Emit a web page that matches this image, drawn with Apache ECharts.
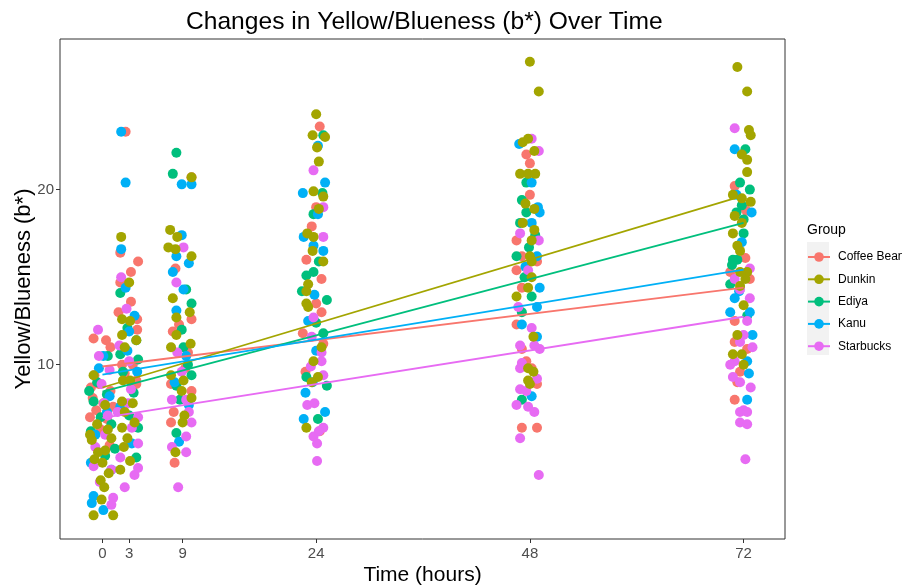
<!DOCTYPE html>
<html>
<head>
<meta charset="utf-8">
<script src="https://cdn.jsdelivr.net/npm/echarts@6/dist/echarts.min.js"></script>
<style>html,body{margin:0;padding:0;background:#fff}#c{width:902px;height:585px}</style>
</head>
<body>
<div id="c"></div>
<script>
// Group names and colours
const groups = ['Coffee Bean', 'Dunkin', 'Ediya', 'Kanu', 'Starbucks'];
const colors = ['#F8766D', '#A3A500', '#00BF7D', '#00B0F6', '#E76BF3'];
const xTicks = [0, 3, 9, 24, 48, 72];
const yTicks = [10, 20];

// Jittered [time, b*] points per group
const coffeeBean = [
  [-1.0,11.5],[0.4,11.4],[0.9,11.0],[-1.3,8.7],[-0.4,8.9],[0.9,8.5],[-1.1,8.1],[0.1,7.8],[-0.7,7.4],[1.2,7.6],[-1.4,7.0],[0.5,6.9],[-0.2,6.3],[0.8,5.4],[-0.9,9.4],
  [2.6,23.3],[2.0,16.4],[4.0,15.9],[3.2,15.3],[2.0,14.7],[3.2,13.6],[1.8,13.0],[3.9,12.6],[3.9,12.0],[2.2,10.0],[3.4,10.0],[3.8,9.1],[3.3,8.6],[3.8,8.9],[2.5,9.5],
  [10.0,20.7],[8.2,15.5],[10.0,12.6],[7.9,11.9],[9.6,10.7],[7.7,8.9],[10.0,8.5],[8.0,7.3],[7.7,6.7],[8.1,4.4],[9.3,9.8],[8.6,12.3],
  [24.4,23.6],[24.0,19.0],[23.5,17.9],[22.9,16.0],[24.6,14.9],[24.0,13.5],[24.6,13.0],[22.5,11.8],[24.8,11.2],[22.8,9.6],[24.4,6.2],
  [47.6,22.0],[48.0,21.5],[48.0,19.7],[46.5,17.1],[47.1,16.2],[48.8,15.9],[46.5,15.4],[47.1,14.4],[46.5,12.3],[47.1,10.9],[47.6,10.2],[48.2,9.8],[48.8,8.9],[47.1,6.4],[48.8,6.4],
  [71.0,20.2],[72.0,19.0],[72.3,18.8],[72.2,16.1],[70.5,15.3],[72.7,14.9],[71.0,12.5],[71.0,11.3],[72.4,10.9],[71.6,9.6],[71.3,9.0],[71.0,8.0]
];
const dunkin = [
  [-1.0,9.4],[0.3,7.7],[-0.6,6.6],[0.6,6.3],[-1.2,5.7],[0.3,5.1],[-0.5,5.0],[0.0,4.4],[-0.2,3.4],[0.2,3.0],[-0.1,2.3],[-1.0,1.4],[1.2,1.4],[-1.4,6.0],[1.0,5.8],[-0.9,4.6],[0.7,3.8],
  [2.1,17.3],[3.0,14.7],[2.2,12.6],[3.1,12.5],[2.2,11.7],[3.8,11.4],[2.5,11.0],[2.3,9.1],[3.1,9.1],[2.2,7.9],[3.4,7.8],[2.5,7.3],[3.6,6.7],[2.2,6.4],[2.8,5.8],[2.4,5.3],[3.1,4.5],[2.0,4.0],
  [10.0,20.7],[7.6,17.7],[8.4,17.3],[7.4,16.7],[8.2,16.6],[10.0,16.2],[7.9,13.8],[9.8,13.0],[8.3,12.7],[8.3,11.7],[9.9,11.2],[7.7,11.0],[7.7,9.4],[9.1,9.1],[8.9,8.5],[10.0,8.1],[9.2,7.1],[9.0,6.7],[8.2,5.0],
  [24.0,24.3],[23.6,23.1],[25.0,23.0],[24.1,22.4],[24.3,21.6],[23.7,19.9],[24.8,19.6],[24.3,18.9],[23.0,17.5],[23.7,17.3],[23.6,16.5],[24.8,15.9],[23.1,14.6],[22.9,14.2],[22.9,13.5],[23.1,13.3],[24.6,11.0],[23.7,10.2],[24.2,9.3],[23.5,9.0],[22.9,6.4],
  [48.0,27.3],[49.0,25.6],[47.8,22.9],[47.2,22.7],[48.5,22.2],[46.9,20.9],[47.8,20.9],[48.6,20.9],[47.5,19.2],[48.5,18.9],[47.2,18.1],[48.5,17.7],[48.2,17.1],[48.0,16.2],[48.2,15.9],[48.2,15.0],[47.8,14.4],[46.5,13.9],[48.4,11.6],[47.8,9.8],[48.4,9.6],[47.8,9.1],[48.0,8.9],
  [71.3,27.0],[72.4,25.6],[72.6,23.4],[72.8,23.1],[71.8,22.0],[72.4,21.7],[72.4,21.0],[70.8,19.7],[71.8,19.5],[72.8,19.3],[71.0,18.5],[71.8,18.1],[70.8,17.5],[71.3,16.8],[71.6,16.5],[72.4,15.3],[71.6,15.3],[72.2,14.9],[72.0,13.4],[71.3,11.7],[70.8,10.6],[71.8,10.6],[72.0,10.0],[71.6,14.5]
];
const ediya = [
  [-1.5,8.5],[-1.0,7.9],[0.6,10.5],[-0.2,7.0],[1.0,6.6],[-1.3,6.2],[0.5,8.3],[1.4,5.2],[-0.6,9.0],[0.3,4.8],
  [2.0,14.1],[3.8,11.4],[2.0,10.6],[4.0,10.3],[4.0,6.4],[3.8,4.7],[2.8,12.1],[3.5,8.4],[2.3,9.6],[3.0,7.1],
  [8.3,22.1],[7.9,20.9],[10.0,13.5],[8.9,12.0],[9.1,11.0],[9.6,10.0],[10.0,9.4],[8.3,8.8],[8.7,8.0],[8.3,6.1],[9.4,14.3],
  [24.8,23.1],[24.7,19.8],[23.7,18.6],[24.3,15.9],[22.9,15.1],[23.7,15.3],[22.4,14.2],[25.2,13.7],[24.8,11.8],[22.9,9.3],[25.2,8.8],[24.2,6.9],[24.0,12.4],
  [47.6,20.4],[47.1,19.4],[47.6,18.7],[46.9,18.1],[46.5,16.2],[47.4,15.0],[48.2,13.9],[47.1,13.0],[47.1,8.0],[48.6,17.4],[47.9,16.7],
  [72.2,22.3],[71.6,20.4],[72.7,20.0],[72.0,18.3],[72.0,17.5],[70.8,16.0],[71.3,16.0],[70.5,14.6],[71.8,19.1],[71.2,18.7],[70.7,15.7],[72.4,12.8]
];
const kanu = [
  [0.1,10.5],[-1.3,4.4],[-1.0,2.5],[0.1,1.7],[-0.4,9.8],[0.8,8.2],[-0.8,6.0],[1.0,4.0],[-1.2,2.1],[0.5,7.3],
  [2.1,23.3],[2.6,20.4],[2.1,16.6],[2.6,14.4],[3.6,12.8],[2.8,10.8],[3.9,9.6],[2.0,7.6],[3.3,5.5],[3.0,11.9],
  [8.9,20.3],[10.0,20.3],[8.9,17.4],[8.3,16.2],[9.7,15.8],[7.9,15.3],[9.1,14.3],[8.3,13.1],[9.4,10.5],[8.1,9.0],[9.7,7.7],[8.6,5.6],
  [24.2,22.5],[25.0,20.4],[22.5,19.8],[24.2,18.6],[22.6,17.3],[23.7,16.8],[24.8,16.5],[23.8,14.0],[23.1,12.5],[23.6,9.0],[22.8,8.4],[25.0,7.3],[22.6,6.9],[24.0,10.8],
  [46.8,22.6],[48.2,20.4],[49.1,18.7],[48.2,18.1],[48.8,16.2],[49.1,14.4],[48.8,13.3],[47.1,12.3],[48.8,11.6],[48.2,8.2],[48.9,19.0],[47.5,15.6],
  [71.0,22.3],[71.2,19.7],[72.9,18.7],[71.8,17.0],[71.0,13.8],[70.5,13.0],[72.7,13.0],[73.0,11.7],[72.4,10.2],[72.6,9.5],[72.4,8.0],[71.5,14.2]
];
const starbucks = [
  [-0.5,12.0],[-0.4,10.5],[-0.1,8.9],[0.2,7.8],[0.6,7.1],[-1.0,4.2],[1.0,4.0],[1.2,2.4],[1.0,2.0],[0.3,6.0],[-0.8,5.3],[0.8,9.7],[-0.3,3.3],
  [2.1,15.0],[2.7,13.2],[3.2,8.6],[2.9,7.8],[1.7,7.3],[4.0,7.0],[3.3,6.4],[4.0,5.5],[2.0,4.7],[3.6,3.7],[4.0,4.1],[2.5,3.0],[1.9,11.1],[3.0,10.2],
  [9.1,16.7],[8.3,14.7],[8.4,10.7],[7.8,8.0],[9.4,8.0],[9.7,7.3],[10.0,6.7],[9.4,5.9],[7.8,5.3],[9.4,5.0],[8.5,3.0],[8.9,9.6],
  [23.7,21.1],[24.8,19.0],[24.8,17.3],[23.7,12.7],[23.5,11.6],[24.6,10.7],[24.6,10.2],[23.4,9.9],[24.8,9.4],[23.0,7.7],[23.8,7.8],[24.8,6.4],[23.7,5.9],[24.1,5.5],[24.1,4.5],[24.3,6.2],
  [48.2,22.9],[49.0,22.2],[49.0,17.1],[46.9,17.5],[47.8,15.4],[46.7,13.3],[48.2,12.1],[46.9,11.1],[48.5,11.1],[49.1,10.9],[47.1,10.1],[46.9,9.8],[48.8,9.2],[46.9,8.6],[47.6,8.5],[46.5,7.7],[47.8,7.6],[48.5,7.3],[46.9,5.8],[49.0,3.7],
  [71.0,23.5],[72.7,15.5],[71.0,14.9],[71.6,14.3],[72.7,13.8],[72.4,12.5],[72.0,11.7],[71.6,11.3],[73.0,11.0],[71.0,10.2],[70.5,10.0],[70.8,9.3],[71.6,9.0],[72.8,8.7],[72.0,7.4],[71.6,7.3],[72.4,7.3],[71.6,6.7],[72.4,6.6],[72.2,4.6]
];

// Linear-fit lines: values at time 0 and time 72
const fitTimes = [0, 72];
const fitCoffeeBean = [9.9, 14.4];
const fitDunkin = [8.7, 19.66];
const fitEdiya = [8.46, 18.1];
const fitKanu = [9.43, 15.43];
const fitStarbucks = [6.97, 12.74];

const pointSets = [coffeeBean, dunkin, ediya, kanu, starbucks];
const fitSets = [fitCoffeeBean, fitDunkin, fitEdiya, fitKanu, fitStarbucks];
const drawOrder = [0, 2, 3, 4, 1];

const FONT = 'Liberation Sans, Arial, sans-serif';
const chart = echarts.init(document.getElementById('c'), null, {renderer: 'canvas'});

const series = [];
groups.forEach((g, i) => {
  series.push({
    name: g, type: 'line', z: 5,
    data: fitTimes.map((t, k) => [t, fitSets[i][k]]),
    showSymbol: false, symbol: 'circle', symbolSize: 9,
    lineStyle: {color: colors[i], width: 1.8},
    itemStyle: {color: colors[i]},
    silent: true, animation: false
  });
});
drawOrder.forEach((i, k) => {
  series.push({
    name: groups[i], type: 'scatter', z: 2 + k * 0.1,
    data: pointSets[i], symbolSize: 10,
    itemStyle: {color: colors[i], opacity: 1},
    animation: false
  });
});

chart.setOption({
  animation: false,
  textStyle: {fontFamily: FONT},
  title: {
    text: 'Changes in Yellow/Blueness (b*) Over Time',
    left: 181, top: 5,
    textStyle: {fontSize: 24.6, fontWeight: 'normal', color: '#000', fontFamily: FONT}
  },
  grid: {left: 60, right: 117, top: 39, bottom: 46, show: true, borderColor: '#333', borderWidth: 1,
         containLabel: false, outerBoundsMode: 'none'},
  xAxis: {
    type: 'value', min: -4.77, max: 76.65,
    axisLine: {show: false, onZero: false}, splitLine: {show: false},
    axisTick: {show: true, length: 4, lineStyle: {color: '#333'}, customValues: xTicks},
    axisLabel: {customValues: xTicks, color: '#4d4d4d', fontSize: 15, margin: 7, fontFamily: FONT},
    name: 'Time (hours)', nameLocation: 'middle', nameGap: 26, nameMoveOverlap: false,
    nameTextStyle: {fontSize: 21, color: '#000', fontFamily: FONT}
  },
  yAxis: {
    type: 'value', min: 0.05, max: 28.6,
    axisLine: {show: false, onZero: false}, splitLine: {show: false},
    axisTick: {show: true, length: 4, lineStyle: {color: '#333'}, customValues: yTicks},
    axisLabel: {customValues: yTicks, color: '#4d4d4d', fontSize: 15, margin: 6, fontFamily: FONT},
    name: 'Yellow/Blueness (b*)', nameLocation: 'middle', nameGap: 25, nameMoveOverlap: false,
    nameTextStyle: {fontSize: 22, color: '#000', fontFamily: FONT}
  },
  legend: {
    data: groups, orient: 'vertical', left: 802, top: 246,
    itemWidth: 22, itemHeight: 12, itemGap: 10.3,
    textStyle: {fontSize: 12, color: '#000', fontFamily: FONT, padding: [0, 0, 0, 3]},
    selectedMode: false
  },
  graphic: [
    {type: 'rect', left: 807, top: 242, shape: {width: 22, height: 113}, style: {fill: '#f2f2f2'}, z: -1, silent: true},
    {type: 'text', left: 807, top: 223, style: {text: 'Group', fontSize: 14, fill: '#000', fontFamily: FONT}, silent: true}
  ],
  series: series
});
</script>
</body>
</html>
